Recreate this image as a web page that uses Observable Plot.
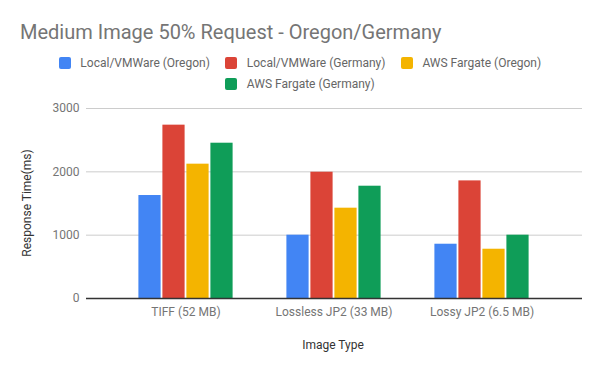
<!DOCTYPE html>
<html>
<head>
<meta charset="utf-8">
<script src="https://cdn.jsdelivr.net/npm/d3@7"></script>
<script src="https://cdn.jsdelivr.net/npm/@observablehq/plot@0.6"></script>
<style>
  html, body { margin: 0; padding: 0; background: #fff; }
  body { font-family: Roboto, "Noto Sans", sans-serif; }
  #wrap { position: relative; width: 600px; height: 371px; overflow: hidden; }
  #title { position: absolute; left: 20px; top: 20px; font-size: 20px; color: #757575; white-space: nowrap; }
  #legend { position: absolute; left: 0; top: 56px; width: 600px; display: flex; flex-wrap: wrap; justify-content: center; row-gap: 8px; column-gap: 15.5px; font-size: 12px; color: #666666; }
  .item { display: flex; align-items: center; white-space: nowrap; height: 13px; }
  .sw { width: 12px; height: 12px; border-radius: 2px; margin-right: 9.5px; }
  #chart { position: absolute; left: 0; top: 0; }
</style>
</head>
<body>
<div id="wrap">
  <div id="chart"></div>
  <div id="title"></div>
  <div id="legend"></div>
</div>
<script>
const title = "Medium Image 50% Request - Oregon/Germany";
const categories = ["TIFF (52 MB)", "Lossless JP2 (33 MB)", "Lossy JP2 (6.5 MB)"];
const seriesNames = ["Local/VMWare (Oregon)", "Local/VMWare (Germany)", "AWS Fargate (Oregon)", "AWS Fargate (Germany)"];
const seriesColors = ["#4285F4", "#DB4437", "#F4B400", "#0F9D58"];
const localOregon = [1626, 1000, 857];
const localGermany = [2737, 1994, 1857];
const fargateOregon = [2121, 1426, 778];
const fargateGermany = [2452, 1773, 1000];
const yTicks = [0, 1000, 2000, 3000];
const xLabel = "Image Type";
const yLabel = "Response Time(ms)";

const seriesValues = [localOregon, localGermany, fargateOregon, fargateGermany];
const rows = seriesValues.map((vals, s) => categories.map((c, i) => ({category: c, series: seriesNames[s], value: vals[i]})));

document.getElementById("title").textContent = title;
const legend = document.getElementById("legend");
seriesNames.forEach((n, i) => {
  const it = document.createElement("div");
  it.className = "item";
  const sw = document.createElement("div");
  sw.className = "sw";
  sw.style.background = seriesColors[i];
  const t = document.createElement("span");
  t.textContent = n;
  it.appendChild(sw); it.appendChild(t);
  legend.appendChild(it);
});

const barW = 23, step = 24, bandW = 99.8;
const inset = (bandW - barW) / 2;

const chart = Plot.plot({
  width: 600,
  height: 371,
  marginTop: 108,
  marginBottom: 73,
  marginLeft: 86,
  marginRight: 18,
  style: {fontFamily: "Roboto, sans-serif", fontSize: "12px", color: "#757575", background: "transparent"},
  x: {domain: categories, padding: 0.33, label: null, tickSize: 0, tickPadding: 9},
  y: {domain: [0, 3000], ticks: yTicks, label: null, tickSize: 0, tickPadding: 7, tickFormat: d => String(d)},
  color: {domain: seriesNames, range: seriesColors},
  marks: [
    Plot.ruleY(yTicks.filter(d => d > 0), {stroke: "#cccccc", strokeWidth: 1}),
    ...rows.map((data, s) => Plot.barY(data, {
      x: "category", y: "value", fill: "series",
      insetLeft: inset, insetRight: inset,
      dx: (s - 1.5) * step
    })),
    Plot.ruleY([0], {stroke: "#333333", strokeWidth: 1.3})
  ]
});
document.getElementById("chart").appendChild(chart);

const svg = d3.select(chart);
svg.append("text")
  .attr("x", 333).attr("y", 349)
  .attr("text-anchor", "middle")
  .attr("fill", "#333").attr("font-size", 12)
  .attr("font-family", "Roboto, sans-serif")
  .text(xLabel);
svg.append("text")
  .attr("transform", "translate(31,203) rotate(-90)")
  .attr("text-anchor", "middle")
  .attr("fill", "#333").attr("font-size", 12)
  .attr("font-family", "Roboto, sans-serif")
  .text(yLabel);
</script>
</body>
</html>
